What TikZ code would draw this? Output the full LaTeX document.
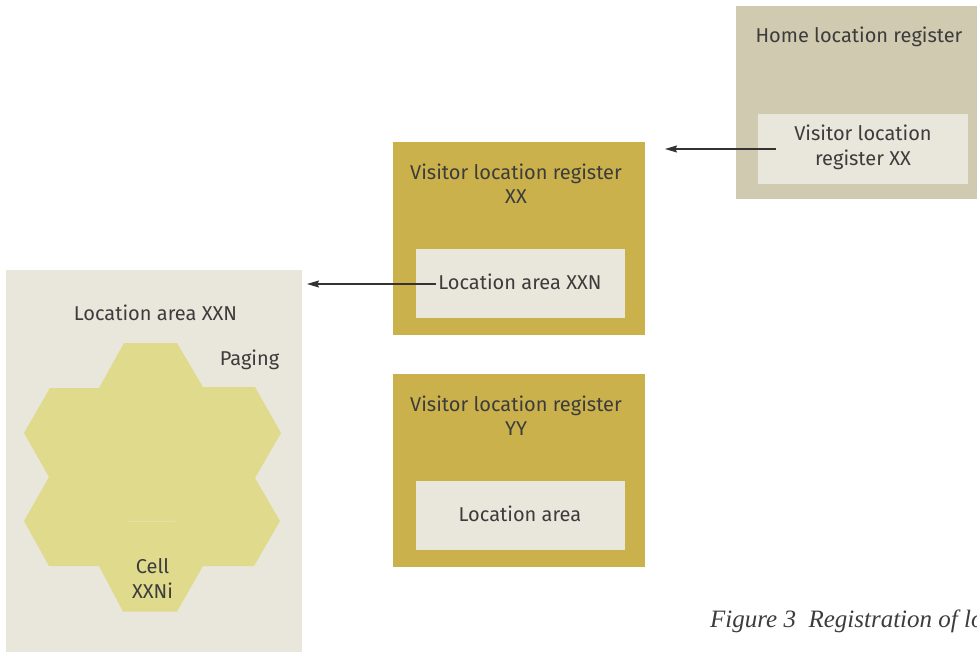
\documentclass[tikz,border=0pt]{standalone}
\usepackage{fontspec}
\setmainfont{Fira Sans}
\newfontfamily\captionserif{Liberation Serif}
\usetikzlibrary{arrows.meta}

\definecolor{hlrgrey}{HTML}{CFCAB0}
\definecolor{paleback}{HTML}{E9E6DC}
\definecolor{vlrgold}{HTML}{CBB14B}
\definecolor{cellfill}{HTML}{DFDA8C}
\definecolor{cellseam}{HTML}{E4E0A2}
\definecolor{inktext}{HTML}{3C3C3C}
\definecolor{arrowink}{HTML}{333333}

\begin{document}
\begin{tikzpicture}[x=1pt,y=-1pt,
    panel/.style={fill=#1, draw=none, anchor=north west, inner sep=0pt, outer sep=0pt},
    label/.style={text=inktext, inner sep=0pt, outer sep=0pt, align=center,
      font=\fontsize{20}{24.5}\selectfont},
    link/.style={draw=arrowink, line width=1.1pt,
      -{Stealth[length=12pt, width=7pt, inset=1.5pt]}},
  ]
  \useasboundingbox (0,0) rectangle (977,651);
  \clip (0,0) rectangle (977,651);

  % --- Home location register ---
  \node[panel=hlrgrey, minimum width=241pt, minimum height=193pt] (hlr) at (736,6) {};
  \node[panel=paleback, minimum width=210pt, minimum height=70pt] (hlrentry) at (758,114) {};
  \node[label, anchor=base] (hlrtitle) at (859,42.7) {Home location register};
  % (base of a two-line label sits on its last line)
  \node[label, anchor=base] (hlrentrytext) at (863,165) {Visitor location\\register XX};

  % --- Visitor location register XX ---
  \node[panel=vlrgold, minimum width=252pt, minimum height=193pt] (vlrxx) at (393,142) {};
  \node[panel=paleback, minimum width=209pt, minimum height=69pt] (vlrxxentry) at (416,249) {};
  \node[label, anchor=base] (vlrxxtitle) at (516,203.5) {Visitor location register\\XX};
  \node[label, anchor=base] (vlrxxentrytext) at (520,289) {Location area XXN};

  % --- Visitor location register YY ---
  \node[panel=vlrgold, minimum width=252pt, minimum height=193pt] (vlryy) at (393,374) {};
  \node[panel=paleback, minimum width=209pt, minimum height=69pt] (vlryyentry) at (416,481) {};
  \node[label, anchor=base] (vlryytitle) at (516,435.5) {Visitor location register\\YY};
  \node[label, anchor=base] (vlryyentrytext) at (520,521) {Location area};

  % --- Location area XXN: seven hexagonal cells as one outline ---
  \node[panel=paleback, minimum width=296pt, minimum height=385pt] (area) at (6,270) {};
  \fill[cellfill]
    (124,343) -- (177,343) -- (203,387) -- (255,387) -- (281,433) -- (255,478)
    -- (280,521) -- (254,566) -- (203,566) -- (177,611.5) -- (123,611.5) -- (99,566)
    -- (49,566) -- (24,521) -- (49,477) -- (24,433) -- (50,388) -- (99,388) -- cycle;
  \draw[cellseam, line width=0.6pt] (128,521.5) -- (175,521.5);
  \node[label, anchor=base] (areatitle) at (155.5,320.7) {Location area XXN};
  \node[label, anchor=base] (paging) at (249.5,365) {Paging};
  \node[label, anchor=base] (cell) at (152.5,598) {Cell\\XXNi};

  % --- connectors ---
  \coordinate (hlrtail) at (776,149);
  \coordinate (vlrxxtip) at (665,149);
  \coordinate (areatip) at (307,284);
  \draw[link] (hlrtail) -- (vlrxxtip);
  \draw[link] ([xshift=-2pt]vlrxxentrytext.west |- areatip) -- (areatip);

  % --- caption (runs past the right edge) ---
  \node[anchor=base west, inner sep=0pt, text=inktext,
    font=\captionserif\itshape\fontsize{25}{30}\selectfont] (caption) at (710,627)
    {Figure 3\hspace{0.5em}Registration of location};
\end{tikzpicture}
\end{document}
